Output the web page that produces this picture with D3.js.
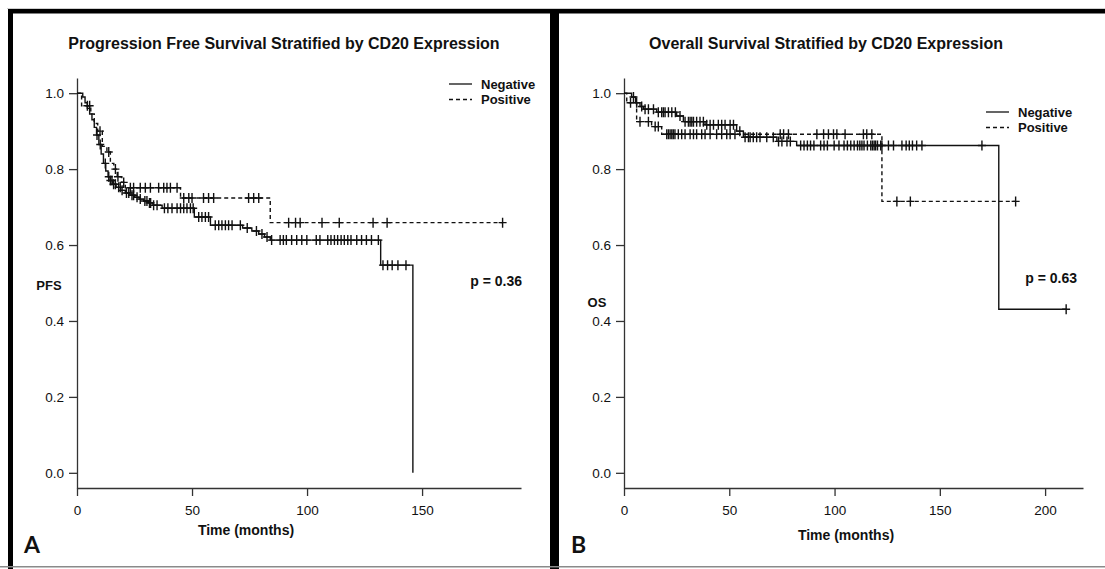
<!DOCTYPE html>
<html>
<head>
<meta charset="utf-8">
<script src="https://cdn.jsdelivr.net/npm/d3@7"></script>
<style>
  body { margin: 0; background: #fff; }
  svg { display: block; }
  text { font-family: "Liberation Sans", Arial, sans-serif; fill: #111; }
</style>
</head>
<body>
<svg id="chart" width="1105" height="569"></svg>
<script>
"use strict";

/*
*  DATA  (time in months, survival after each event)
*/

var yTicks = [0, 0.2, 0.4, 0.6, 0.8, 1.0];
var pfsTicks = [0, 50, 100, 150];
var osTicks = [0, 50, 100, 150, 200];
var groupNames = ["Negative", "Positive"];

var pfsNegSteps = [[2.5,0.99],[3.5,0.975],[4.5,0.96],[5.5,0.945],[6.5,0.93],[7.5,0.91],[8.5,0.89],[9.5,0.865],
  [10.5,0.84],[11.5,0.815],[12.5,0.795],[13.5,0.78],[14.5,0.77],[15.5,0.76],[17,0.752],[19,0.744],[21,0.737],
  [23,0.731],[25,0.726],[27,0.721],[29,0.716],[31,0.711],[33,0.705],[37,0.697],[51,0.674],[58,0.652],[72,0.645],
  [76,0.637],[79,0.629],[81.5,0.621],[84,0.613],[132,0.547],[146,0]];
var pfsNegCensor = [8.7,10.1,12.3,13.8,14.5,15.2,15.9,16.7,18.1,18.8,19.6,21.5,22.5,23.9,24.6,26.1,27.5,29.5,30.4,
  31.5,32,33.3,34.8,38,39.5,41.3,43.5,45,46.4,47.8,49.3,50.5,52.9,54.3,55.8,57.2,60.1,61.6,63,64.5,65.9,67.4,71,74,
  78,80.4,82.6,84.6,88.3,89.7,91,93.3,95.5,97.7,99.9,104,105.6,109,110.4,111.9,113.3,114.8,116.2,117.7,119.1,121.6,
  123.7,125.8,128,131,133,135,137,139.5,143];

var pfsPosSteps = [[2,0.967],[6,0.945],[7.5,0.92],[9,0.9],[11,0.86],[13,0.845],[14.5,0.815],[16,0.8],[17.5,0.78],
  [19.5,0.765],[21,0.751],[45,0.724],[84,0.659]];
var pfsPosCensor = [4.5,5.5,10,13.8,16.7,17.8,20.3,23.2,24.6,27.5,29.7,31.9,35.5,37.7,39.1,40.6,43.5,46.4,48.6,50,
  55,57.2,59.4,74.6,76.8,79,92,95,97,106.5,114,128.7,134.8,185];

var osNegSteps = [[3.6,0.99],[5.5,0.975],[7.6,0.965],[9.2,0.958],[15.5,0.95],[25,0.94],[28.2,0.925],[38.5,0.917],
  [53.5,0.9],[56.7,0.884],[72.6,0.873],[82,0.862],[178,0.431]];
var osNegCensor = [4.5,6,8.4,10,11.6,14,16.3,17.9,18.7,19.5,21.1,22.7,24.4,26.6,29,30.6,31.4,32.2,33,34.5,36.1,37.7,
  39.3,40.9,42.5,44.8,46.4,48,50.4,52,55,57.5,59.1,59.9,61.4,63,64.6,67.8,70.9,73.4,75,77.4,79,83.9,85.5,87.1,88.6,
  90.2,93.4,95,96.6,99.8,102.1,104.5,106.1,107.7,109.3,110.9,112,113,114,115.6,117.2,118,118.8,119.5,120.4,121.9,
  122.5,125.6,128,132,134,135.5,137,139,141.5,170,210];

var osPosSteps = [[1.3,0.975],[6,0.925],[13.1,0.912],[17.9,0.892],[122.5,0.715]];
var osPosCensor = [3.1,7.6,11.6,14.8,16.3,20.3,21.1,21.9,22.7,23.4,24.2,25.8,27.4,29,31.4,33,34.5,36.9,38.5,40.9,
  44,46.4,48.8,50.4,52.7,74.2,75.8,78.1,91.6,94.8,97.1,99.5,101.1,105,113.7,115.3,117.7,129.6,136,186];

/*
*  RUN
*/

var svg = d3.select('#chart');
drawFrame();

drawPanel({
  title: 'Progression Free Survival Stratified by CD20 Expression', titleX: 284,
  yLabel: 'PFS', yLabelX: 49, yLabelY: 290,
  xMax: 193, x0: 77, x1: 521, ticks: pfsTicks, xLabelX: 246, xLabelY: 535,
  groups: [[pfsNegSteps, pfsNegCensor], [pfsPosSteps, pfsPosCensor]],
  legendX: 449, legendY: 84,
  pText: 'p = 0.36', pX: 522, pY: 286,
  letter: 'A', letterX: 24
});

drawPanel({
  title: 'Overall Survival Stratified by CD20 Expression', titleX: 826,
  yLabel: 'OS', yLabelX: 597, yLabelY: 307,
  xMax: 218, x0: 624, x1: 1083, ticks: osTicks, xLabelX: 846, xLabelY: 540,
  groups: [[osNegSteps, osNegCensor], [osPosSteps, osPosCensor]],
  legendX: 986, legendY: 112,
  pText: 'p = 0.63', pX: 1077, pY: 283,
  letter: 'B', letterX: 571
});

/*
*  HELPERS
*/

function drawFrame() {
  svg.append('rect').attr('x', 7).attr('y', 8).attr('width', 1098).attr('height', 1).attr('fill', '#cfcfcf');
  svg.append('rect').attr('x', 8).attr('y', 9).attr('width', 1097).attr('height', 4.5).attr('fill', '#000');
  svg.append('rect').attr('x', 8).attr('y', 9).attr('width', 5).attr('height', 560).attr('fill', '#000');
  svg.append('rect').attr('x', 550).attr('y', 9).attr('width', 9).attr('height', 560).attr('fill', '#000');
  svg.append('rect').attr('x', 0).attr('y', 566).attr('width', 1105).attr('height', 1.5).attr('fill', '#8a8a8a');
}

function survAt(steps, t) {
  var s = 1;
  steps.forEach(function (d) { if (d[0] <= t) s = d[1]; });
  return s;
}

function drawPanel(p) {
  var x = d3.scaleLinear().domain([0, p.xMax]).range([p.x0, p.x1]);
  var y = d3.scaleLinear().domain([-0.04, 1.04]).range([488, 78]);
  var g = svg.append('g');

  // AXES
  var yAxis = d3.axisLeft(y).tickValues(yTicks).tickFormat(d3.format('.1f')).tickSize(8).tickSizeOuter(0).tickPadding(5);
  var xAxis = d3.axisBottom(x).tickValues(p.ticks).tickSize(8).tickSizeOuter(0).tickPadding(9);
  [g.append('g').attr('transform', 'translate(' + p.x0 + ',0)').call(yAxis),
   g.append('g').attr('transform', 'translate(0,488)').call(xAxis)].forEach(function (ax) {
    ax.selectAll('path, line').attr('stroke', '#333').attr('stroke-width', 1.3);
    ax.selectAll('text').style('font-size', '13.5px').attr('fill', '#3a3a3a')
      .style('font-family', '"Liberation Sans", Arial, sans-serif');
  });

  // CURVES
  var line = d3.line().x(function (d) { return x(d[0]); }).y(function (d) { return y(d[1]); }).curve(d3.curveStepAfter);
  p.groups.forEach(function (grp, i) {
    var steps = grp[0], censor = grp[1];
    var last = steps[steps.length - 1];
    var end = Math.max(last[0], d3.max(censor));
    var pts = [[0, 1]].concat(steps, [[end, last[1]]]);
    g.append('path').datum(pts).attr('d', line)
      .attr('fill', 'none').attr('stroke', '#111').attr('stroke-width', 1.4)
      .attr('stroke-dasharray', i ? '4,3' : null);
    g.selectAll('.c' + i).data(censor).enter().append('path')
      .attr('d', function (t) {
        var cx = x(t), cy = y(survAt(steps, t));
        return 'M' + (cx - 4) + ',' + cy + 'H' + (cx + 4) + 'M' + cx + ',' + (cy - 5) + 'V' + (cy + 5);
      })
      .attr('stroke', '#111').attr('stroke-width', 1.4).attr('fill', 'none');
  });

  // LEGEND
  groupNames.forEach(function (name, i) {
    var ly = p.legendY + i * 15.5;
    g.append('line').attr('x1', p.legendX).attr('x2', p.legendX + 23).attr('y1', ly).attr('y2', ly)
      .attr('stroke', '#111').attr('stroke-width', 1.3).attr('stroke-dasharray', i ? '4,3' : null);
    g.append('text').attr('x', p.legendX + 32).attr('y', ly + 4.5)
      .style('font-size', '13px').style('font-weight', 'bold').text(name);
  });

  // TEXTS
  g.append('text').attr('x', p.titleX).attr('y', 49).attr('text-anchor', 'middle')
    .style('font-size', '16px').style('font-weight', 'bold').text(p.title);
  g.append('text').attr('x', p.yLabelX).attr('y', p.yLabelY).attr('text-anchor', 'middle')
    .style('font-size', '13px').style('font-weight', 'bold').text(p.yLabel);
  g.append('text').attr('x', p.xLabelX).attr('y', p.xLabelY).attr('text-anchor', 'middle')
    .style('font-size', '14px').style('font-weight', 'bold').text('Time (months)');
  g.append('text').attr('x', p.pX).attr('y', p.pY).attr('text-anchor', 'end')
    .style('font-size', '14px').style('font-weight', 'bold').text(p.pText);
  g.append('text').attr('x', p.letterX).attr('y', 553)
    .style('font-family', 'Lato, "Open Sans", sans-serif')
    .style('font-size', '23px').style('font-weight', 'bold').text(p.letter);
}
</script>
</body>
</html>
